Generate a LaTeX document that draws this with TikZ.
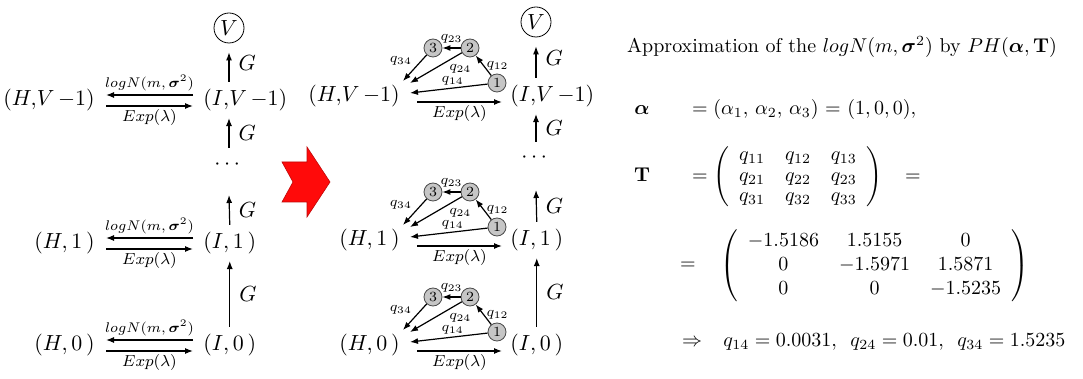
\documentclass[tikz,border=0pt]{standalone}
\usepackage{amsmath}
\usepackage{tikz}
\usetikzlibrary{positioning, arrows.meta, calc}
\definecolor{phState}{HTML}{C6C6C6}
\definecolor{phStateB}{HTML}{4A4A4A}
\definecolor{bigRed}{HTML}{FF0A0A}
\newcommand{\lgn}{logN(m,\boldsymbol{\sigma}^2)}
\newcommand{\expl}{Exp(\lambda)}

\begin{document}
\begin{tikzpicture}[x=0.5pt,y=-0.5pt,sn/.style={font=\fontsize{10.5}{12.6}\selectfont},hs/.style={sn, anchor=east, inner xsep=5.5pt},is/.style={sn, anchor=west, inner xsep=5pt},hm/.style={sn, anchor=east, inner xsep=8.5pt},im/.style={sn, anchor=west, inner xsep=4pt},vs/.style={sn, circle, draw, minimum size=15pt, inner sep=0pt},st/.style={circle, draw=phStateB, fill=phState, minimum size=9pt, inner sep=0pt, font=\scriptsize},arr/.style={-{Latex[length=4pt,width=3pt]}, semithick},lab/.style={font=\footnotesize, inner sep=1.5pt},lgl/.style={font=\fontsize{7.5}{9}\selectfont, inner sep=1.5pt},ql/.style={font=\scriptsize, inner sep=1.2pt},gl/.style={sn, right, inner xsep=4.5pt},tx/.style={inner sep=0pt}]
\useasboundingbox (0,0) rectangle (1083,379);
% left: the original chain
\node[vs] (v) at (229,28) {$V$};
\node[hs] (hV) at (106,100) {$(H,\!V\,{-}1)$};
\node[is] (iV) at (193,100) {$(I,\!V\,{-}1)$};
\node[sn] (dt) at (229,165) {$\cdots$};
\node[hs] (h1) at (106,243) {$(H,1\,)$};
\node[is] (i1) at (193,243) {$(I,1\,)$};
\node[hs] (h0) at (106,345) {$(H,0\,)$};
\node[is] (i0) at (193,345) {$(I,0\,)$};
\foreach \h/\i in {hV/iV, h1/i1, h0/i0} {
  \draw[arr] ([yshift=2.5pt]\i.west) -- node[lgl, above] {$\lgn$} ([yshift=2.5pt]\h.east);
  \draw[arr] ([yshift=-3pt]\h.east) -- node[lab, below] {$\expl$} ([yshift=-3pt]\i.west);
}
\draw[arr, shorten >=4.5pt] (iV.north -| v) -- node[gl] {$G$} (v);
\draw[arr] ([yshift=8.5pt]dt.center) -- node[gl] {$G$} (iV.south -| v);
\draw[arr] (i1.north) -- node[gl] {$G$} ([yshift=-15pt]dt.center);
\draw[arr] (i0) -- node[gl] {$G$} (i1);
% big red arrow
\filldraw[fill=bigRed, draw=bigRed!75!black, line width=0.3pt] (282,162) -- (293,182) -- (282,202) -- (307,202) -- (307,217) -- (330,182) -- (307,147) -- (307,162) -- cycle;
% middle: PH approximation of the repair time
\node[vs] (vm) at (536,22) {$V$};
\node[hm] (mhV) at (417,96) {$(H,\!V\,{-}1)$};
\node[im] (miV) at (502,96) {$(I,\!V\,{-}1)$};
\node[sn] (dm) at (536,158) {$\cdots$};
\node[hm] (mh1) at (417,240) {$(H,1\,)$};
\node[im] (mi1) at (502,240) {$(I,1\,)$};
\node[hm] (mh0) at (417,345) {$(H,0\,)$};
\node[im] (mi0) at (502,345) {$(I,0\,)$};
\foreach \k/\b in {V/96, 1/240, 0/345} {
  \node[st] (n1\k) at (497,\b-13) {1};
  \node[st] (n2\k) at (470,\b-48) {2};
  \node[st] (n3\k) at (433,\b-48) {3};
  \draw[arr] (n1\k) -- node[ql, right] {$q_{12}$} (n2\k);
  \draw[arr] (n2\k) -- node[ql, above, inner sep=2pt] {$q_{23}$} (n3\k);
  \draw[arr] (n2\k) -- node[ql, pos=0.3, below right] {$q_{24}$} ([shift={(-3.5pt,6.5pt)}]mh\k.east);
  \draw[arr] (n3\k) -- node[ql, above left] {$q_{34}$} ([shift={(-7pt,7.5pt)}]mh\k.east);
  \draw[arr] (n1\k) -- node[ql, pos=0.45, above] {$q_{14}$} ([shift={(-3.5pt,1.5pt)}]mh\k.east);
  \draw[arr] ([yshift=-3pt]mh\k.east) -- node[lab, below] {$\expl$} ([yshift=-3pt]mi\k.west);
}
\draw[arr, shorten >=4.5pt] (miV.north -| vm) -- node[gl] {$G$} (vm);
\draw[arr] ([yshift=8pt]dm.center) -- node[gl] {$G$} (miV.south -| vm);
\draw[arr] (mi1.north) -- node[gl] {$G$} ([yshift=-16pt]dm.center);
\draw[arr] (mi0) -- node[gl] {$G$} (mi1);
% right: the fitted parameters
\node (ttl) at (842,47) {Approximation of the $\lgn$ by $PH(\boldsymbol{\alpha},\mathbf{T})$};
\node[tx, anchor=base] (al) at (642,115) {$\boldsymbol{\alpha}$};
\node[tx, anchor=base] (eqa) at (700,115) {$=$};
\node[tx, anchor=base west] (alv) at (713,115) {$(\alpha_1,\,\alpha_2,\,\alpha_3)$};
\node[tx, anchor=base] (eqb) at (833,115) {$=$};
\node[tx, anchor=base west] (alw) at (847,115) {$(1,0,0),$};
\node[tx, anchor=base] (tt) at (642,182) {$\mathbf{T}$};
\node[tx, anchor=base] (eqc) at (700,182) {$=$};
\node[tx, anchor=west] (tq) at (713,177) {$\def\arraystretch{0.85}\left(\begin{array}{ccc} q_{11} & q_{12} & q_{13}\\ q_{21} & q_{22} & q_{23}\\ q_{31} & q_{32} & q_{33}\end{array}\right)$};
\node[tx, anchor=base] (eqd) at (913,182) {$=$};
\node[tx] (eqe) at (688,266) {$=$};
\node[tx, anchor=west] (tv) at (720,266) {$\left(\begin{array}{ccc} -1.5186 & 1.5155 & 0\\ 0 & -1.5971 & 1.5871\\ 0 & 0 & -1.5235\end{array}\right)$};
\node[tx, anchor=base] (imp) at (692,347) {$\Rightarrow$};
\node[tx, anchor=base west] (qv) at (723,347) {$q_{14}=0.0031,\ \,q_{24}=0.01,\ \,q_{34}=1.5235$};
\end{tikzpicture}
\end{document}
